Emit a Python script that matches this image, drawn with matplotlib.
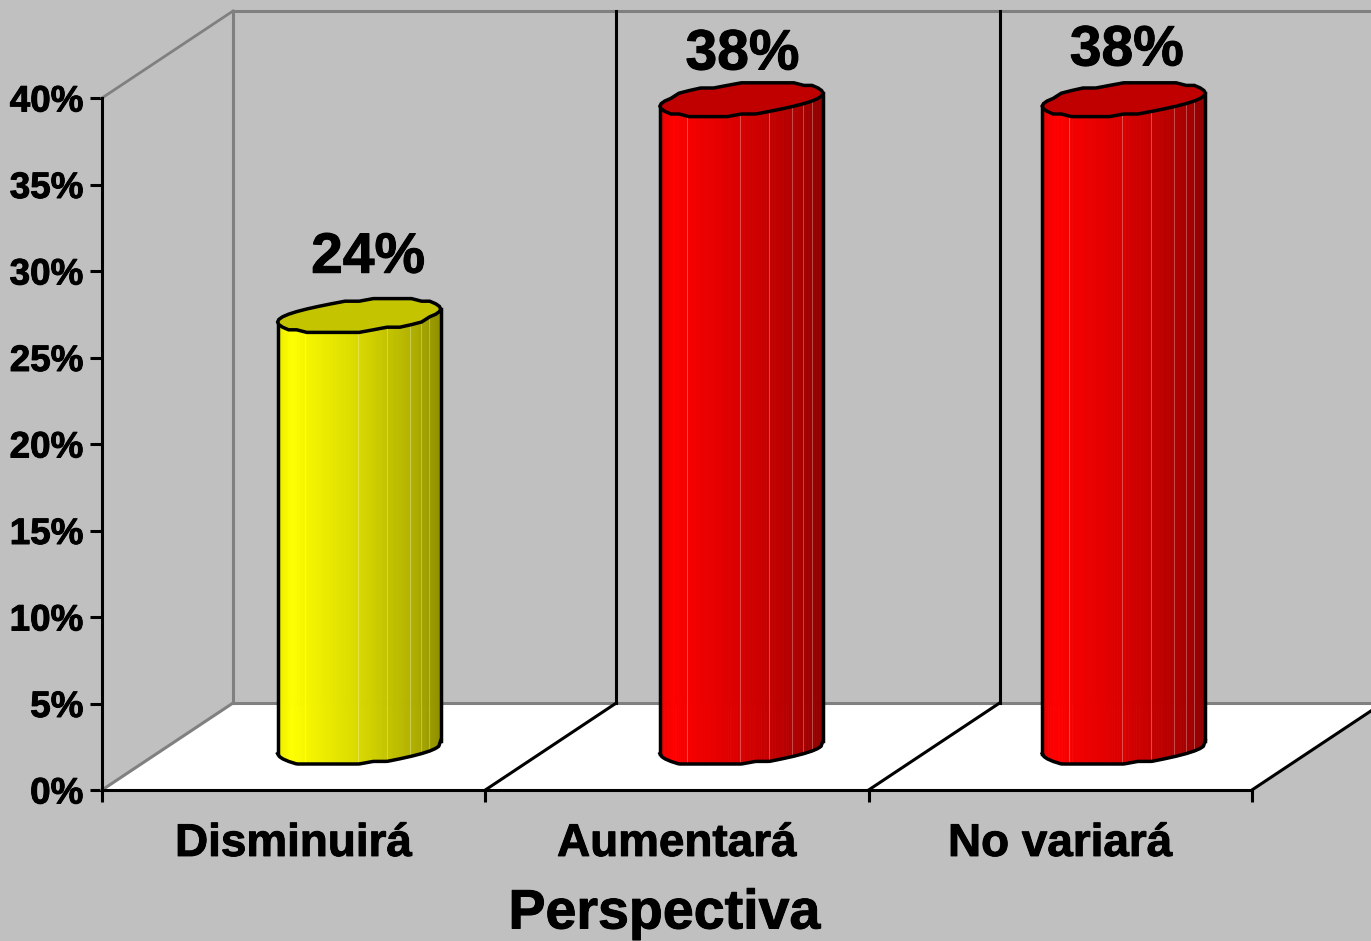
#!/usr/bin/env python3
"""Perspectiva: fake 3D cylinder columns, drawn on a plain 2D axes."""

import matplotlib

matplotlib.use("Agg")
import matplotlib.patheffects as pe
import matplotlib.pyplot as plt
import numpy as np

plt.rcParams["font.family"] = ["Liberation Sans", "DejaVu Sans"]
plt.rcParams["font.weight"] = "bold"

categories = ["Disminuirá", "Aumentará", "No variará"]
value_labels = ["24%", "38%", "38%"]
column_tops = [25.0, 37.5, 37.5]  # height as drawn, a bit off from the printed number
y_ticks = [0, 5, 10, 15, 20, 25, 30, 35, 40]
y_tick_labels = ["0%", "5%", "10%", "15%", "20%", "25%", "30%", "35%", "40%"]

BG = "#c0c0c0"
WALL = "#808080"
SIDE = {"Disminuirá": "#ffff00", "Aumentará": "#ff0000", "No variará": "#ff0000"}
TOP = {"Disminuirá": "#c4c400", "Aumentará": "#c00000", "No variará": "#c00000"}

W, H = 1371, 941
X0_PX, PX_PER_CAT = 102, 383.3
Y0_PX, PX_PER_PCT = 790, 17.3

# depth of the box, in data units
DX = 131 / PX_PER_CAT
DY = 87 / PX_PER_PCT

# cylinder shape
A = 81.5 / PX_PER_CAT
B = 15.7 / PX_PER_PCT
TILT = 6.5 / PX_PER_PCT
SNAP = 2.6 / PX_PER_PCT

# shading across the cylinder: fraction of width -> brightness
SHADE_X = [0.0, 0.08, 0.5, 0.8, 1.0]
SHADE_V = [0.92, 1.0, 0.85, 0.71, 0.56]
LIGHT_LINES = [0.165, 0.49, 0.67, 0.81, 0.88, 0.93]

LW = 2.2
OUTLINE = 2.5
BOLD = [pe.withStroke(linewidth=0.7, foreground="black")]


def ellipse(cx, cy):
    # faceted outline, y snapped so it gets the stair look of the original
    t = np.linspace(0, 2 * np.pi, 37)
    x = cx + A * np.cos(t)
    y = cy + B * np.sin(t) + TILT * np.cos(t)
    return x, np.round(y / SNAP) * SNAP


def front_edge(cx, cy, xs):
    t = np.linspace(np.pi, 2 * np.pi, 19)
    x = cx + A * np.cos(t)
    y = cy + B * np.sin(t) + TILT * np.cos(t)
    return np.interp(xs, x, np.round(y / SNAP) * SNAP)


def draw_column(ax, cx, name, top):
    cy0 = DY / 2 - 0.1
    rgb = np.array(matplotlib.colors.to_rgb(SIDE[name]))

    edges = np.linspace(cx - A, cx + A, 90)
    low = front_edge(cx, cy0, edges)
    high = front_edge(cx, cy0 + top, edges)
    for j in range(len(edges) - 1):
        frac = (edges[j] + edges[j + 1]) / 2
        frac = (frac - (cx - A)) / (2 * A)
        c = rgb * np.interp(frac, SHADE_X, SHADE_V)
        ax.fill_between(edges[j:j + 2], low[j:j + 2], high[j:j + 2], color=c,
                        linewidth=0.6, zorder=4)

    for f in LIGHT_LINES:
        xl = cx - A + f * 2 * A
        yl0 = front_edge(cx, cy0, xl)
        yl1 = front_edge(cx, cy0 + top, xl)
        c = rgb * np.interp(f, SHADE_X, SHADE_V)
        c = c + (1 - c) * 0.3
        ax.plot([xl, xl], [yl0, yl1], color=c, linewidth=0.7, zorder=4.5)

    # outline of side + cap
    ax.plot(edges, low, color="black", linewidth=OUTLINE, zorder=5)
    ax.plot([cx - A, cx - A], [low[0], high[0]], color="black", linewidth=OUTLINE, zorder=5)
    ax.plot([cx + A, cx + A], [low[-1], high[-1]], color="black", linewidth=OUTLINE, zorder=5)
    xe, ye = ellipse(cx, cy0 + top)
    ax.fill(xe, ye, facecolor=TOP[name], edgecolor="black", linewidth=OUTLINE, zorder=6)


def main():
    fig = plt.figure(figsize=(W / 100, H / 100), dpi=100, facecolor=BG)
    ax = fig.add_axes([0, 0, 1, 1], facecolor=BG)

    n = len(categories)
    ax.set_xlim(-X0_PX / PX_PER_CAT, (W - X0_PX) / PX_PER_CAT)
    ax.set_ylim((Y0_PX - H) / PX_PER_PCT, Y0_PX / PX_PER_PCT)

    # floor
    ax.fill([0, n, n + DX, DX], [0, 0, DY, DY], color="white", linewidth=0, zorder=1)

    # walls
    ymax = y_ticks[-1]
    ax.plot([0, DX], [0, DY], color=WALL, linewidth=LW, zorder=2)
    ax.plot([0, DX], [ymax, ymax + DY], color=WALL, linewidth=LW * 0.9, zorder=2)
    ax.plot([DX, n + DX], [DY, DY], color=WALL, linewidth=LW, zorder=2)
    ax.plot([DX, n + DX], [ymax + DY, ymax + DY], color=WALL, linewidth=LW, zorder=2)
    ax.plot([DX, DX], [DY, ymax + DY], color=WALL, linewidth=LW, zorder=2)
    for i in range(1, n):
        ax.plot([i + DX, i + DX], [DY, ymax + DY], color="black", linewidth=LW, zorder=2)
    for i in range(1, n + 1):
        ax.plot([i, i + DX], [0, DY], color="black", linewidth=LW, zorder=2)

    # the columns do not sit quite evenly in the original
    column_nudge = [0, -1 / PX_PER_CAT, -2 / PX_PER_CAT]
    centres = [i + 0.5 + DX / 2 + column_nudge[i] for i in range(n)]
    for cx, name, top in zip(centres, categories, column_tops):
        draw_column(ax, cx, name, top)

    label_nudge = [(9, 43), (1, 30), (3, 34)]  # px from the cap centre
    for i, (txt, top) in enumerate(zip(value_labels, column_tops)):
        ax.annotate(txt, (centres[i], DY / 2 - 0.1 + top),
                    xytext=(label_nudge[i][0] * 0.72, label_nudge[i][1] * 0.72),
                    textcoords="offset points", ha="center", va="baseline",
                    fontsize=41, fontweight="bold", zorder=7, path_effects=BOLD)

    # real axes, moved onto the front edges of the box
    for side in ["top", "right"]:
        ax.spines[side].set_visible(False)
    ax.spines["left"].set_position(("data", 0))
    ax.spines["bottom"].set_position(("data", 0))
    ax.spines["left"].set_bounds(0, ymax)
    ax.spines["bottom"].set_bounds(0, n)
    ax.spines["left"].set_linewidth(LW)
    ax.spines["bottom"].set_linewidth(LW)

    ax.set_yticks(y_ticks, y_tick_labels, fontsize=26.5, fontweight="bold",
                  path_effects=BOLD)
    ax.tick_params(axis="y", direction="out", length=8.5, width=LW, pad=5)

    ax.set_xticks(range(n + 1), [""] * (n + 1))
    ax.tick_params(axis="x", which="major", direction="out", length=8.5, width=LW)
    ax.set_xticks([i + 0.5 for i in range(n)], categories, minor=True,
                  fontsize=33, fontweight="bold", path_effects=BOLD)
    ax.tick_params(axis="x", which="minor", length=0, pad=23)

    ax.set_xlabel("Perspectiva", fontsize=40, fontweight="bold", va="baseline",
                  path_effects=BOLD)
    ax.xaxis.set_label_coords(664 / W, 1 - 928.5 / H)

    fig.savefig("out.png", dpi=100, facecolor=BG)


if __name__ == "__main__":
    main()
